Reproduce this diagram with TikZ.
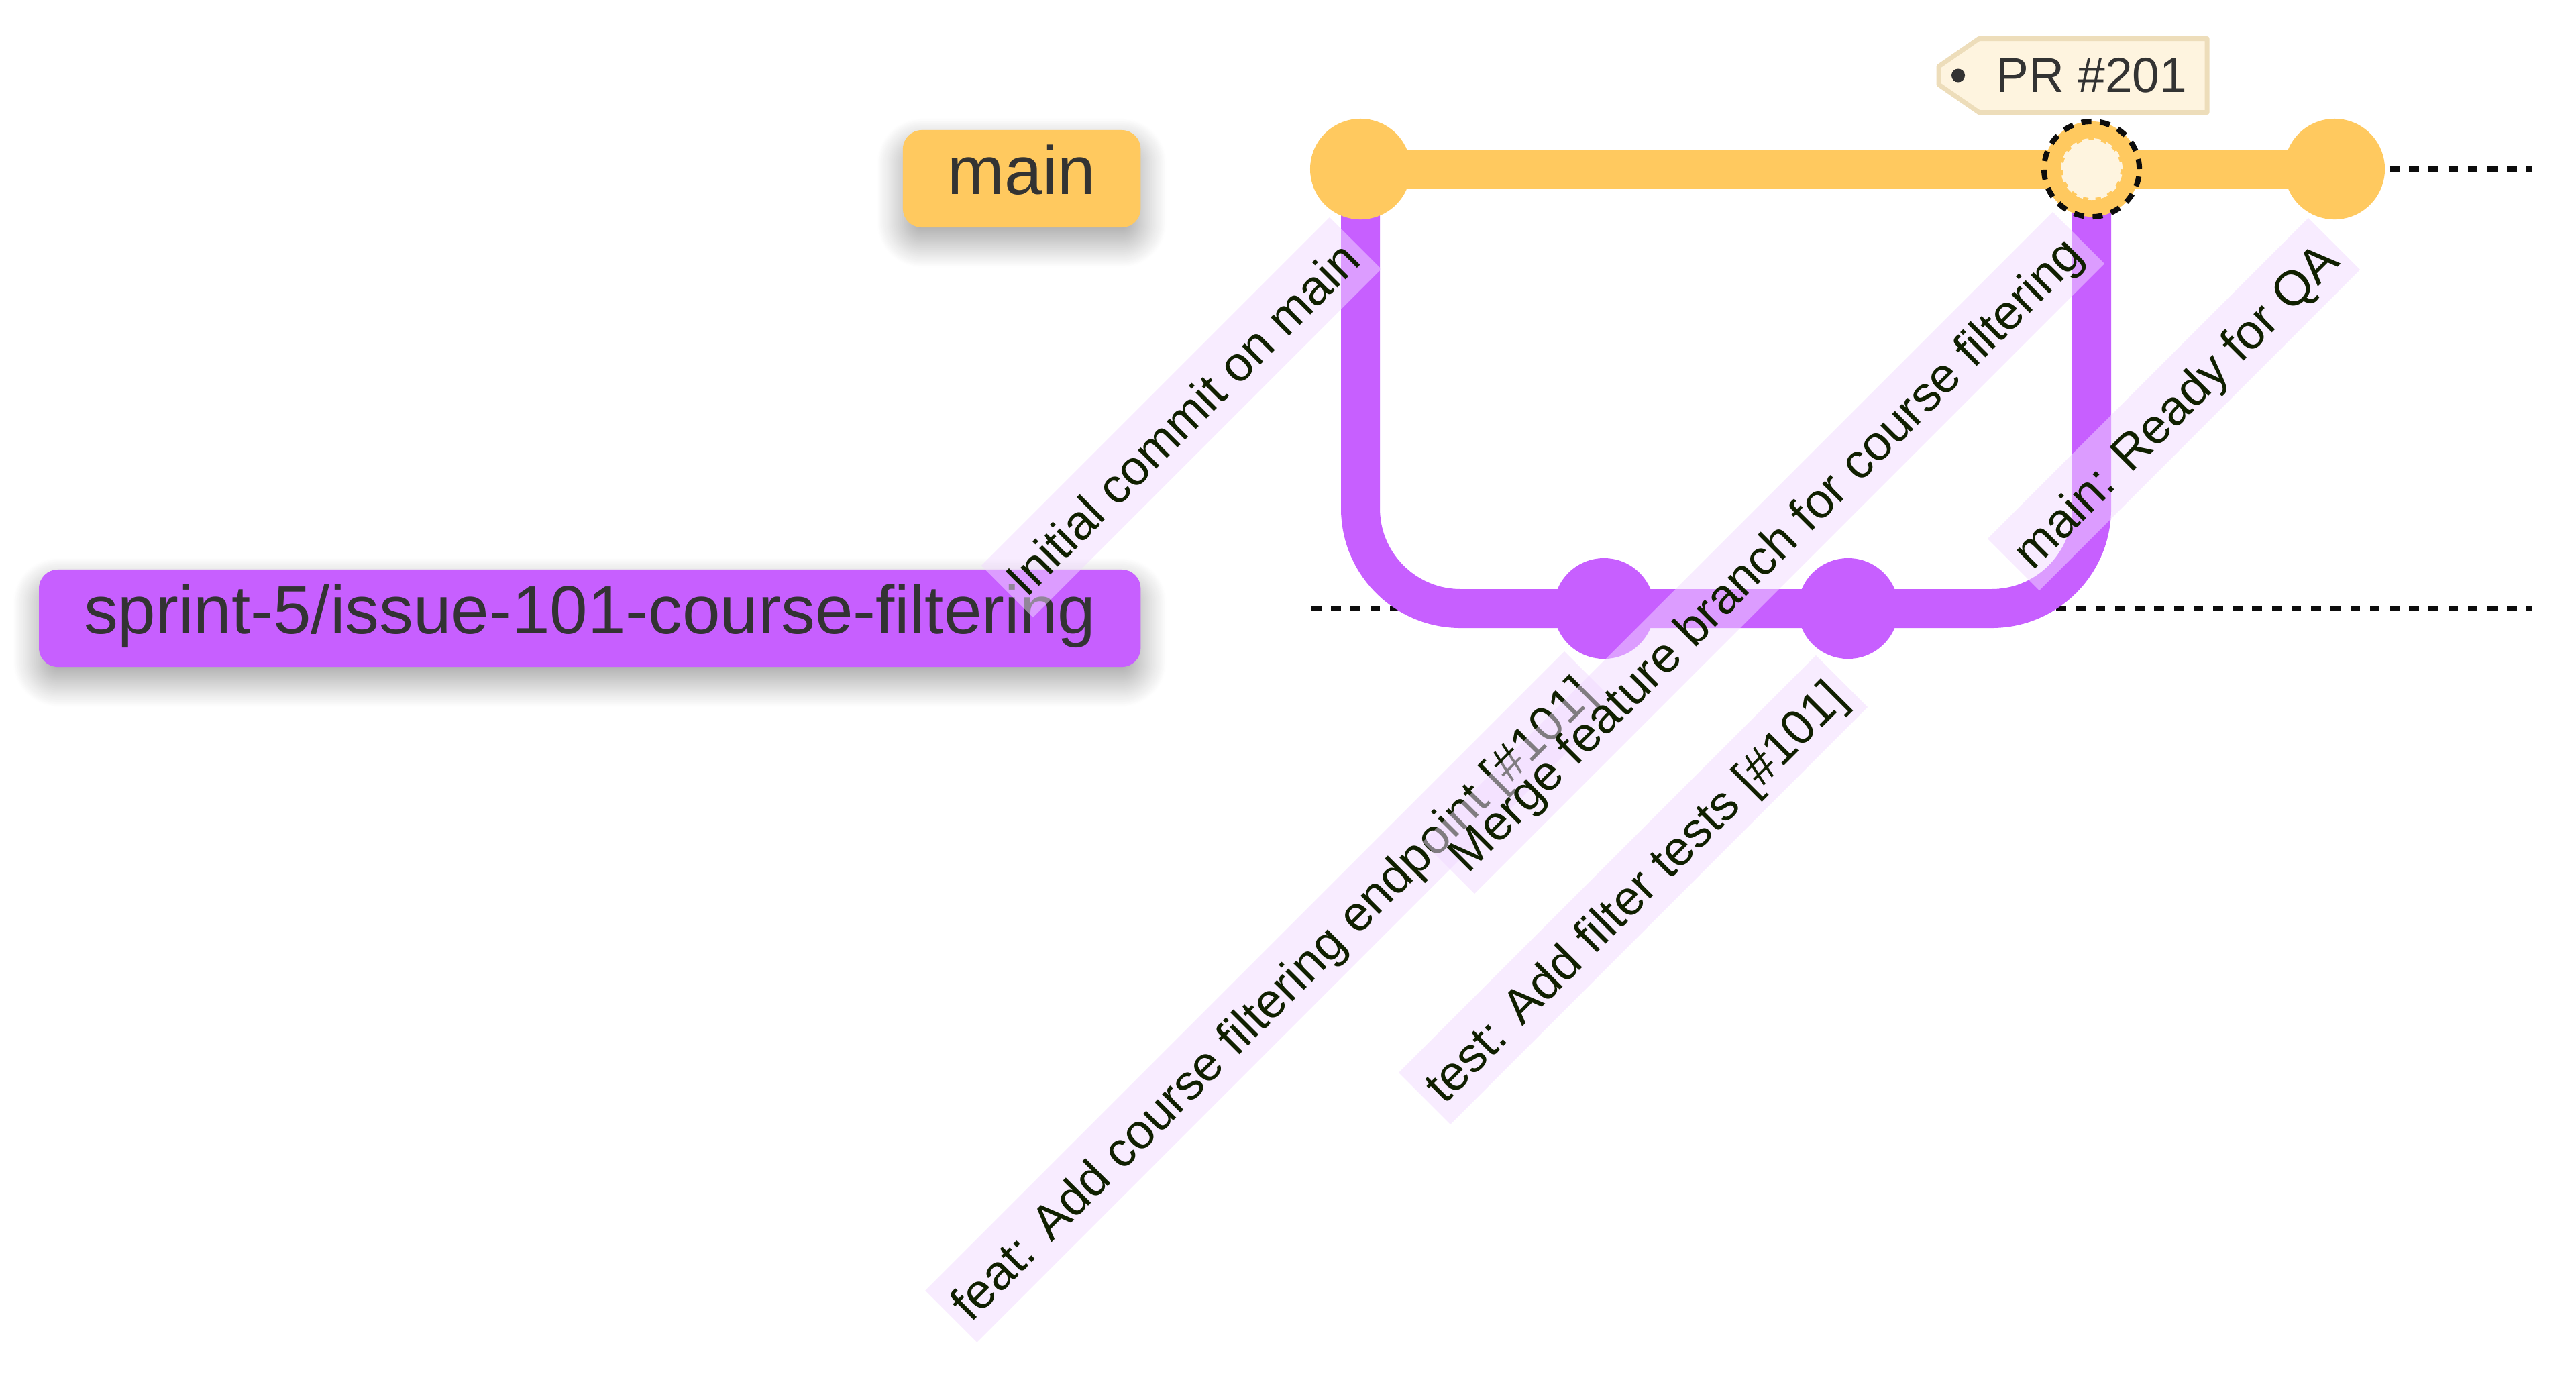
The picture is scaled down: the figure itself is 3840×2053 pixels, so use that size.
\documentclass[tikz,border=0pt]{standalone}
\usepackage{fontspec}
\setmainfont{Liberation Sans}
\usepackage{tikz}
\usetikzlibrary{shadows.blur}
\definecolor{trunkyellow}{HTML}{FFC95F}
\definecolor{featpurple}{HTML}{C75FFF}
\definecolor{tagcream}{HTML}{FEF4DF}
\definecolor{tagedge}{HTML}{EDDDBA}
\definecolor{labelbg}{HTML}{F1D9FF}
\definecolor{labeltext}{HTML}{102000}
\definecolor{darkgrey}{HTML}{333333}
\pgfdeclarelayer{back}
\pgfsetlayers{back,main}
\tikzstyle{commit} = [circle, inner sep=0pt, minimum size=1.5cm]
\tikzstyle{branchlabel} = [rounded corners=0.28cm, anchor=east, inner xsep=0.67cm, inner ysep=0pt, minimum height=1.45cm, text height=18.8pt, text depth=5.8pt, text=darkgrey, font=\fontsize{28.9}{34}\selectfont, blur shadow={shadow xshift=0pt, shadow yshift=-6pt, shadow blur radius=11pt, shadow blur steps=25, shadow opacity=38}]
\tikzstyle{commitlabel} = [fill=labelbg, fill opacity=0.5, text opacity=1, text=labeltext, rotate=45, anchor=east, inner xsep=0.135cm, inner ysep=0pt, minimum height=1.09cm, text height=17.7pt, text depth=1.7pt, font=\fontsize{20.8}{25}\selectfont]
\tikzstyle{trunk} = [draw=trunkyellow, line width=0.58cm]
\tikzstyle{feature} = [draw=featpurple, line width=0.58cm, rounded corners=1.49cm]
\tikzstyle{lane} = [draw=black!95, line width=0.075cm, dash pattern=on 0.146cm off 0.146cm]

\begin{document}
\begin{tikzpicture}[x=0.01cm, y=-0.01cm, line join=round]
      \useasboundingbox (0,0) rectangle (3840,2053);
      \node[branchlabel, fill=trunkyellow] (bmain) at (1701,266.5) {main};
      \node[branchlabel, fill=featpurple] (bsprint) at (1701,921.5) {sprint-5/issue-101-course-filtering};
      \node[commit, fill=trunkyellow] (c1) at (2028,252) {};
      \node[commit, fill=featpurple] (c2) at (2391,907) {};
      \node[commit, fill=featpurple] (c3) at (2755,907) {};
      \node[commit, fill=trunkyellow, draw=black!95, line width=0.08cm, dash pattern=on 0.15cm off 0.13cm, minimum size=1.42cm] (m) at (3118,252) {};
      \node[commit, fill=tagcream, draw=tagcream, line width=0.06cm, dash pattern=on 0.1cm off 0.08cm, minimum size=0.86cm] (mi) at (m) {};
      \node[commit, fill=trunkyellow] (c5) at (3480,252) {};
      \coordinate (mainstart) at (1955,252);
      \coordinate (mainend) at (3774,252);
      \coordinate (sprintstart) at (1955,907);
      \coordinate (sprintend) at (3774,907);
      \begin{pgfonlayer}{back}
        \draw[lane] (mainstart) -- (mainend);
        \draw[lane] (sprintstart) -- (sprintend);
        \draw[feature] (c1.center) |- (c2.center) -- (c3.center) -| (m.center);
        \draw[trunk] (c1.center) -- (m.center) -- (c5.center);
      \end{pgfonlayer}
      \node[commitlabel] (t1) at ([shift={(-7,110)}]c1.center) {Initial commit on main};
      \node[commitlabel] (t2) at ([shift={(-20,102)}]c2.center) {feat: Add course filtering endpoint [\#101]};
      \node[commitlabel] (t3) at ([shift={(-9,108)}]c3.center) {test: Add filter tests [\#101]};
      \node[commitlabel] (t4) at ([shift={(-19,102)}]m.center) {Merge feature branch for course filtering};
      \node[commitlabel] (t5) at ([shift={(0,111)}]c5.center) {main: Ready for QA};
      \draw[fill=tagcream, draw=tagedge, line width=0.07cm] (2890,99) -- (2950,57.5) -- (3290,57.5) -- (3290,167.5) -- (2950,167.5) -- (2890,126) -- cycle;
      \fill[darkgrey] (2919,112.5) circle (0.1cm);
      \node[anchor=base, text=darkgrey, inner sep=0pt, font=\fontsize{20.8}{25}\selectfont] (pr) at (3118,137) {PR \#201};
    \end{tikzpicture}
\end{document}
